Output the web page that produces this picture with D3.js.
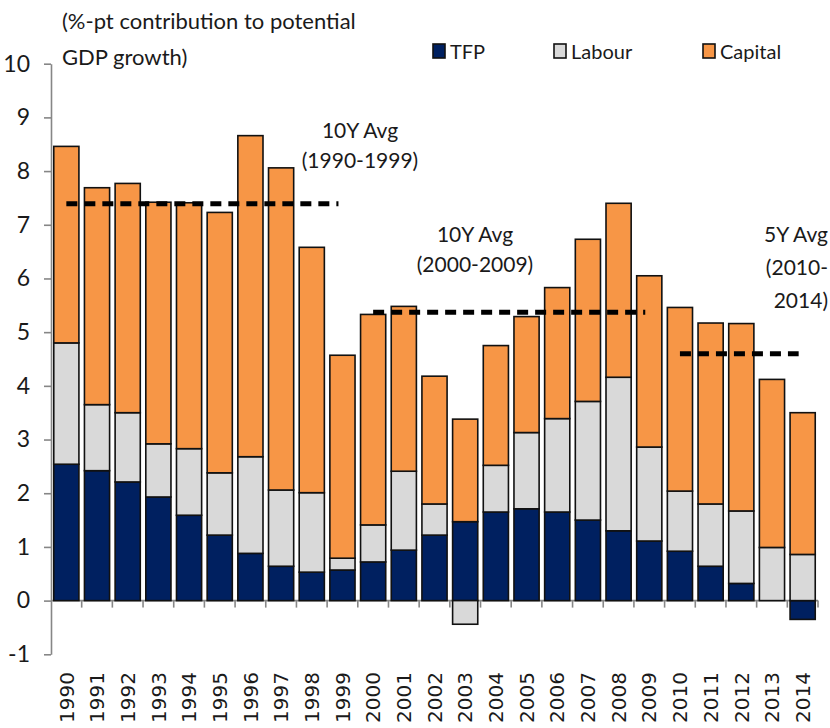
<!DOCTYPE html>
<html>
<head>
<meta charset="utf-8">
<script src="https://cdn.jsdelivr.net/npm/d3@7"></script>
<style>
  body { margin: 0; background: #fff; }
  text { font-family: Lato, "Liberation Sans", sans-serif; fill: #1a1a1a; }
</style>
</head>
<body>
<script>
// categories
const years = ['1990', '1991', '1992', '1993', '1994', '1995', '1996', '1997', '1998', '1999',
               '2000', '2001', '2002', '2003', '2004', '2005', '2006', '2007', '2008', '2009',
               '2010', '2011', '2012', '2013', '2014'];

// %-pt contributions
const tfp     = [2.54, 2.42, 2.21, 1.93, 1.59, 1.22, 0.88, 0.64, 0.53, 0.57,
                 0.72, 0.94, 1.22, 1.47, 1.65, 1.71, 1.65, 1.50, 1.30, 1.11,
                 0.92, 0.64, 0.32, 0.00, -0.35];
const labour  = [2.26, 1.23, 1.29, 0.99, 1.24, 1.16, 1.80, 1.42, 1.48, 0.22,
                 0.69, 1.47, 0.58, -0.44, 0.87, 1.42, 1.74, 2.21, 2.86, 1.75,
                 1.12, 1.16, 1.35, 0.99, 0.86];
const capital = [3.66, 4.04, 4.27, 4.50, 4.58, 4.85, 5.98, 6.00, 4.57, 3.78,
                 3.92, 3.07, 2.38, 1.91, 2.23, 2.16, 2.44, 3.02, 3.24, 3.19,
                 3.42, 3.37, 3.49, 3.13, 2.64];

const seriesNames  = ['TFP', 'Labour', 'Capital'];
const seriesColors = ['#002060', '#D9D9D9', '#F79646'];

const yTicks = [-1, 0, 1, 2, 3, 4, 5, 6, 7, 8, 9, 10];

// period averages (dashed lines)
const avgFrom   = ['1990', '2000', '2010'];
const avgTo     = ['1999', '2009', '2014'];
const avgValues = [7.39, 5.37, 4.60];

const width = 830;
const height = 728;
const margin = {top: 63.7, right: 12, bottom: 73.7, left: 51};

const svg = d3.select('body')
    .append('svg')
    .attr('width', width)
    .attr('height', height);

const x = d3.scaleBand()
    .domain(years)
    .range([margin.left, width - margin.right])
    .paddingInner(0.18)
    .paddingOuter(0.09);

const y = d3.scaleLinear()
    .domain([-1, 10])
    .range([height - margin.bottom, margin.top]);

const rows = years.map((yr, i) => ({year: yr, TFP: tfp[i], Labour: labour[i], Capital: capital[i]}));

const stacked = d3.stack()
    .keys(seriesNames)
    .offset(d3.stackOffsetDiverging)(rows);

const axisColor = '#868686';

// y axis
const yAxis = svg.append('g')
    .attr('transform', `translate(${margin.left},0)`)
    .call(d3.axisLeft(y).tickValues(yTicks).tickFormat(d => String(d))
        .tickSize(7).tickPadding(14).tickSizeOuter(0));
yAxis.select('.domain').attr('stroke', axisColor).attr('stroke-width', 1.6);
yAxis.selectAll('.tick line').attr('stroke', axisColor).attr('stroke-width', 1.6);
yAxis.selectAll('.tick text')
    .style('font-family', 'Lato, "Liberation Sans", sans-serif')
    .style('font-size', '23px')
    .attr('fill', '#1a1a1a');

// zero line with category ticks
const boundaries = years.slice(1).map(yr => x(yr) - x.step() * x.paddingInner() / 2);
svg.append('line')
    .attr('x1', margin.left).attr('x2', width - margin.right)
    .attr('y1', y(0)).attr('y2', y(0))
    .attr('stroke', axisColor).attr('stroke-width', 1.6);
svg.append('g').selectAll('line')
    .data(boundaries.concat([width - margin.right]))
    .join('line')
    .attr('x1', d => d).attr('x2', d => d)
    .attr('y1', y(0)).attr('y2', y(0) + 7)
    .attr('stroke', axisColor).attr('stroke-width', 1.6);

// bars
svg.append('g')
    .selectAll('g')
    .data(stacked)
    .join('g')
    .attr('fill', (d, i) => seriesColors[i])
    .selectAll('rect')
    .data(d => d)
    .join('rect')
    .attr('x', d => x(d.data.year))
    .attr('width', x.bandwidth())
    .attr('y', d => y(Math.max(d[0], d[1])))
    .attr('height', d => Math.abs(y(d[0]) - y(d[1])))
    .attr('stroke', '#111')
    .attr('stroke-width', 1.6);

// year labels
svg.append('g').selectAll('text')
    .data(years)
    .join('text')
    .attr('transform', d => `translate(${x(d) + x.bandwidth() / 2},672) rotate(-90)`)
    .attr('dy', '0.36em')
    .attr('text-anchor', 'end')
    .style('font-family', '"DejaVu Sans", sans-serif')
    .style('font-size', '20px')
    .text(d => d);

// average lines, from first to last year centre of each period
svg.append('g').selectAll('line')
    .data(avgValues)
    .join('line')
    .attr('x1', (d, i) => x(avgFrom[i]) + x.bandwidth() / 2)
    .attr('x2', (d, i) => x(avgTo[i]) + x.bandwidth() / 2 - 4)
    .attr('y1', d => y(d)).attr('y2', d => y(d))
    .attr('stroke', '#000')
    .attr('stroke-width', 5)
    .attr('stroke-dasharray', '11,7');

// annotations
const notes = [
    {t: '10Y Avg', x: 360, y: 138, a: 'middle'},
    {t: '(1990-1999)', x: 360, y: 168, a: 'middle'},
    {t: '10Y Avg', x: 475, y: 242, a: 'middle'},
    {t: '(2000-2009)', x: 475, y: 272, a: 'middle'},
    {t: '5Y Avg', x: 828, y: 242, a: 'end'},
    {t: '(2010-', x: 828, y: 275, a: 'end'},
    {t: '2014)', x: 828, y: 308, a: 'end'}
];
svg.append('g').selectAll('text')
    .data(notes)
    .join('text')
    .attr('x', d => d.x).attr('y', d => d.y)
    .attr('text-anchor', d => d.a)
    .style('font-size', '21px')
    .text(d => d.t);

// title
svg.append('text').attr('x', 62).attr('y', 29).style('font-size', '22px')
    .text('(%-pt contribution to potential');
svg.append('text').attr('x', 62).attr('y', 65).style('font-size', '22px')
    .text('GDP growth)');

// legend
const legendX = [433, 554, 703];
const legend = svg.append('g').selectAll('g')
    .data(seriesNames)
    .join('g')
    .attr('transform', (d, i) => `translate(${legendX[i]},44)`);
legend.append('rect')
    .attr('width', 12).attr('height', 14)
    .attr('fill', (d, i) => seriesColors[i])
    .attr('stroke', '#111').attr('stroke-width', 1.6);
legend.append('text')
    .attr('x', 17).attr('y', 15)
    .style('font-size', '20px')
    .text(d => d);
</script>
</body>
</html>
